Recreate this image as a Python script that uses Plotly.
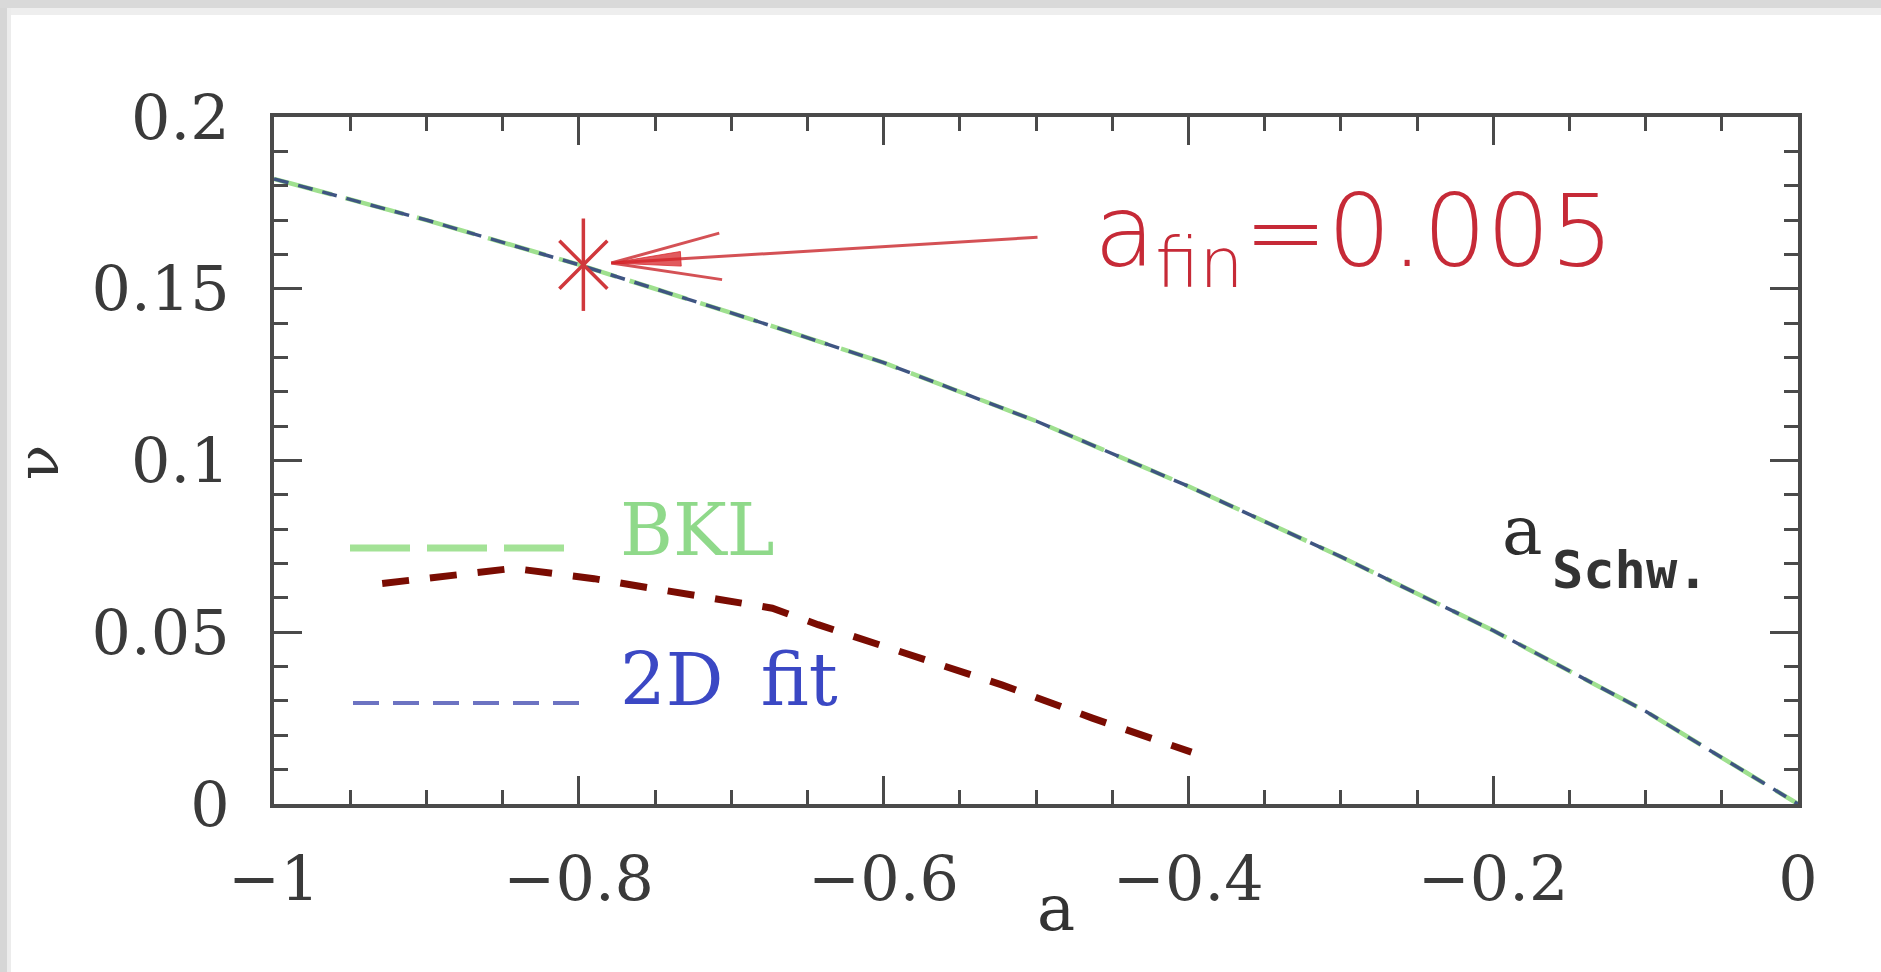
import math
import plotly.graph_objects as go

# ---- data -------------------------------------------------------------
spin_a = [-1.0, -0.9, -0.8, -0.7, -0.6, -0.5, -0.4, -0.3, -0.2, -0.1, 0.0]
nu_bkl = [0.182, 0.170, 0.157, 0.1430, 0.1285, 0.1115, 0.0925, 0.0720, 0.0505, 0.0270, 0.0]
nu_fit = [0.182, 0.170, 0.157, 0.1430, 0.1285, 0.1115, 0.0925, 0.0720, 0.0505, 0.0270, 0.0]

edge_a = [-0.929, -0.843, -0.790, -0.730, -0.673, -0.643, -0.583, -0.522, -0.463, -0.432, -0.398]
edge_nu = [0.0642, 0.0686, 0.0656, 0.0612, 0.0570, 0.0522, 0.0433, 0.0346, 0.0250, 0.0201, 0.0151]

star_a = [-0.797]
star_nu = [0.157]

x_ticks = [-1, -0.8, -0.6, -0.4, -0.2, 0]
x_ticktext = ["\u22121", "\u22120.8", "\u22120.6", "\u22120.4", "\u22120.2", "0"]
y_ticks = [0, 0.05, 0.1, 0.15, 0.2]
y_ticktext = ["0", "0.05", "0.1", "0.15", "0.2"]

label_text = "a<sub>fin</sub>=0.005"
label_a, label_nu = -0.499, 0.165   # tail of the arrow, next to the label

# ---- canvas geometry ----------------------------------------------------
W, H = 1881, 972
ML, MR, MT, MB = 274, 83, 117, 168
PW, PH = W - ML - MR, H - MT - MB
X_RANGE = (-1.0, 0.0)
Y_RANGE = (0.0, 0.2)


def px_x(px):
    return (px - ML) / PW


def px_y(py):
    return (H - MB - py) / PH


def data_to_px(a, nu):
    return (ML + (a - X_RANGE[0]) / (X_RANGE[1] - X_RANGE[0]) * PW,
            H - MB - (nu - Y_RANGE[0]) / (Y_RANGE[1] - Y_RANGE[0]) * PH)


def px_to_data(px, py):
    return (X_RANGE[0] + (px - ML) / PW * (X_RANGE[1] - X_RANGE[0]),
            Y_RANGE[0] + (H - MB - py) / PH * (Y_RANGE[1] - Y_RANGE[0]))


SERIF = "DejaVu Serif"
SANS = "DejaVu Sans"
RED = "#c62a37"
STAR_RED = "#d0383c"

fig = go.Figure()

# BKL curve (green) under the 2D-fit curve (blue)
fig.add_trace(go.Scatter(x=spin_a, y=nu_bkl, mode="lines",
                         line=dict(color="#9fe08f", width=4.5, dash="60px,14px"),
                         hoverinfo="skip", showlegend=False))
fig.add_trace(go.Scatter(x=spin_a, y=nu_fit, mode="lines",
                         line=dict(color="#3f5582", width=3.5, dash="15px,10px"),
                         hoverinfo="skip", showlegend=False))

# dark red dashed boundary
fig.add_trace(go.Scatter(x=edge_a, y=edge_nu, mode="lines",
                         line=dict(color="#7a0c02", width=7, dash="27px,21px"),
                         hoverinfo="skip", showlegend=False))

# arrow from the label to the star
tx, ty = data_to_px(label_a, label_nu)
sx, sy = data_to_px(star_a[0], star_nu[0])
dx, dy = sx - tx, sy - ty
dist = math.hypot(dx, dy)
ux, uy = dx / dist, dy / dist
tipx, tipy = sx - ux * 28, sy - uy * 28


def rot_back(length, ang_deg):
    ang = math.radians(ang_deg)
    bx, by = -ux, -uy
    rx = bx * math.cos(ang) - by * math.sin(ang)
    ry = bx * math.sin(ang) + by * math.cos(ang)
    return tipx + rx * length, tipy + ry * length


b1 = rot_back(112, 12)
b2 = rot_back(112, -12)
f1 = rot_back(70, 6)
f2 = rot_back(70, -6)

pts = [(tx, ty), (tipx, tipy), None, b1, (tipx, tipy), b2]
ax_, ay_ = [], []
for p in pts:
    if p is None:
        ax_.append(None)
        ay_.append(None)
    else:
        a_, n_ = px_to_data(*p)
        ax_.append(a_)
        ay_.append(n_)
fig.add_trace(go.Scatter(x=ax_, y=ay_, mode="lines",
                         line=dict(color="rgba(205,50,55,0.85)", width=3),
                         hoverinfo="skip", showlegend=False))
fx, fy = zip(*[px_to_data(*p) for p in [(tipx, tipy), f1, f2, (tipx, tipy)]])
fig.add_trace(go.Scatter(x=list(fx), y=list(fy), mode="lines", fill="toself",
                         fillcolor="rgba(215,35,40,0.75)",
                         line=dict(color="rgba(215,35,40,0.75)", width=1),
                         hoverinfo="skip", showlegend=False))

# star marker (vertical bar plus diagonal cross)
fig.add_trace(go.Scatter(x=star_a, y=star_nu, mode="markers",
                         marker=dict(symbol="line-ns-open", size=66, color=STAR_RED,
                                     line=dict(color=STAR_RED, width=3.5)),
                         hoverinfo="skip", showlegend=False))
fig.add_trace(go.Scatter(x=star_a, y=star_nu, mode="markers",
                         marker=dict(symbol="x-thin-open", size=48, color=STAR_RED,
                                     line=dict(color=STAR_RED, width=3.5)),
                         hoverinfo="skip", showlegend=False))

shapes = []
# window frame around the figure
shapes += [
    dict(type="rect", xref="paper", yref="paper", x0=px_x(0), x1=px_x(W),
         y0=px_y(0), y1=px_y(8), fillcolor="#d9d9d9", line_width=0, layer="above"),
    dict(type="rect", xref="paper", yref="paper", x0=px_x(10), x1=px_x(W),
         y0=px_y(8), y1=px_y(15), fillcolor="#eeeeee", line_width=0, layer="above"),
    dict(type="rect", xref="paper", yref="paper", x0=px_x(0), x1=px_x(7),
         y0=px_y(H), y1=px_y(8), fillcolor="#d6d6d6", line_width=0, layer="above"),
    dict(type="rect", xref="paper", yref="paper", x0=px_x(7), x1=px_x(11),
         y0=px_y(H), y1=px_y(8), fillcolor="#ececec", line_width=0, layer="above"),
]
# legend keys
shapes += [
    dict(type="line", xref="paper", yref="paper", x0=px_x(350), x1=px_x(566),
         y0=px_y(548), y1=px_y(548),
         line=dict(color="#a3e296", width=7, dash="60px,17px")),
    dict(type="line", xref="paper", yref="paper", x0=px_x(353), x1=px_x(586),
         y0=px_y(703), y1=px_y(703),
         line=dict(color="#6c73c2", width=4, dash="26px,14px")),
]

annotations = [
    dict(xref="paper", yref="paper", x=px_x(618), y=px_y(530), text="BKL",
         showarrow=False, xanchor="left", yanchor="middle",
         font=dict(family=SERIF, size=72, color="#8fd98a")),
    dict(xref="paper", yref="paper", x=px_x(618), y=px_y(680), text="2D\u00a0\u2009fit",
         showarrow=False, xanchor="left", yanchor="middle",
         font=dict(family=SERIF, size=72, color="#3b48c4")),
    dict(xref="paper", yref="paper", x=px_x(1500), y=px_y(530), text="a",
         showarrow=False, xanchor="left", yanchor="middle",
         font=dict(family=SERIF, size=68, color="#2e2e2e")),
    dict(xref="paper", yref="paper", x=px_x(1550), y=px_y(570), text="Schw.",
         showarrow=False, xanchor="left", yanchor="middle",
         font=dict(family="DejaVu Sans Mono", size=52, color="#333333", weight="bold")),
    dict(xref="paper", yref="paper", x=px_x(tx + 54), y=px_y(238), text=label_text,
         showarrow=False, xanchor="left", yanchor="middle",
         font=dict(family=SANS, size=100, color=RED, weight=200)),
    dict(xref="paper", yref="paper", x=px_x(1056), y=px_y(908), text="a",
         showarrow=False, xanchor="center", yanchor="middle",
         font=dict(family=SERIF, size=64, color="#333333")),
    dict(xref="paper", yref="paper", x=px_x(38), y=px_y(462), text="\u03bd",
         showarrow=False, xanchor="center", yanchor="middle", textangle=-90,
         font=dict(family=SERIF, size=58, color="#333333")),
]

axis_common = dict(
    showgrid=False, zeroline=False, showline=True, linecolor="#4a4a4a",
    linewidth=4, mirror="ticks", ticks="inside", tickcolor="#4a4a4a",
    tickwidth=3, tickfont=dict(family=SERIF, size=62, color="#3a3a3a"),
)

fig.update_layout(
    width=W, height=H,
    margin=dict(l=ML, r=MR, t=MT, b=MB, pad=0),
    paper_bgcolor="white", plot_bgcolor="white",
    showlegend=False,
    shapes=shapes,
    annotations=annotations,
    xaxis=dict(range=list(X_RANGE), tickvals=x_ticks, ticktext=x_ticktext,
               ticklen=28, ticklabelstandoff=18,
               minor=dict(dtick=0.05, tick0=-1, ticks="inside", ticklen=14,
                          tickwidth=3, tickcolor="#4a4a4a"),
               **axis_common),
    yaxis=dict(range=list(Y_RANGE), tickvals=y_ticks, ticktext=y_ticktext,
               ticklen=28, ticklabelstandoff=28,
               minor=dict(dtick=0.01, tick0=0, ticks="inside", ticklen=14,
                          tickwidth=3, tickcolor="#4a4a4a"),
               **axis_common),
)

fig.write_html("out.html")
